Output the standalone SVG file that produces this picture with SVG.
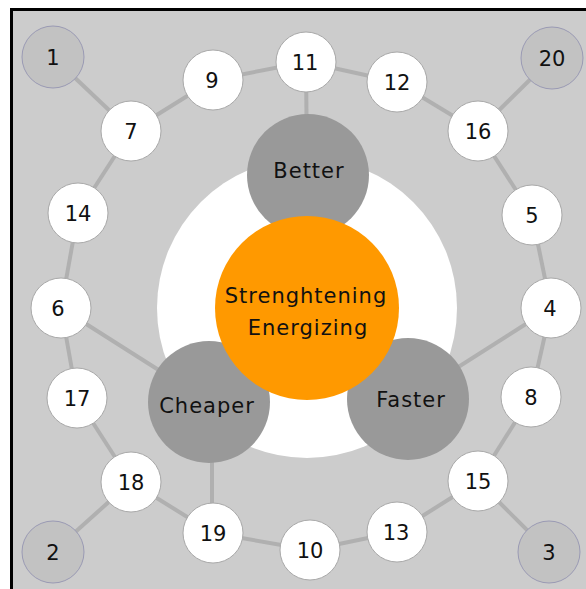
<svg xmlns="http://www.w3.org/2000/svg" width="586" height="589" viewBox="0 0 586 589">
<style>
.bg{fill:#cccccc;stroke:#000;stroke-width:3}
.edge{stroke:#b0b0b0;stroke-width:4;fill:none}
.n circle{fill:#fff;stroke:#a8a8a8;stroke-width:1}
.c circle{fill:#c2c2c2;stroke:#9a9ab4;stroke-width:1}
.g circle{fill:#999999}
.core circle{fill:#ff9900}
text{font-family:"DejaVu Sans",Verdana,sans-serif;font-size:21px;fill:#111;text-anchor:middle}
.w{letter-spacing:1px}
</style>
<rect width="586" height="589" fill="#fff"/>
<rect class="bg" x="11.5" y="9.5" width="620" height="620"/>
<circle cx="307" cy="308" r="150" fill="#fff"/>
<g id="connectors" class="edge">
<line x1="53" y1="57" x2="131" y2="131"/>
<line x1="131" y1="131" x2="213" y2="80"/>
<line x1="213" y1="80" x2="306" y2="62"/>
<line x1="306" y1="62" x2="397" y2="82"/>
<line x1="397" y1="82" x2="478" y2="131"/>
<line x1="478" y1="131" x2="552" y2="58"/>
<line x1="478" y1="131" x2="532" y2="215"/>
<line x1="532" y1="215" x2="551" y2="308"/>
<line x1="551" y1="308" x2="531" y2="397"/>
<line x1="531" y1="397" x2="478" y2="481"/>
<line x1="478" y1="481" x2="549" y2="552"/>
<line x1="478" y1="481" x2="397" y2="532"/>
<line x1="397" y1="532" x2="310" y2="550"/>
<line x1="310" y1="550" x2="213" y2="533"/>
<line x1="213" y1="533" x2="131" y2="482"/>
<line x1="131" y1="482" x2="53" y2="552"/>
<line x1="131" y1="482" x2="77" y2="398"/>
<line x1="77" y1="398" x2="61" y2="308"/>
<line x1="61" y1="308" x2="78" y2="213"/>
<line x1="78" y1="213" x2="131" y2="131"/>
<line x1="306" y1="62" x2="307" y2="175"/>
<line x1="61" y1="308" x2="209" y2="402"/>
<line x1="212" y1="533" x2="212" y2="402"/>
<line x1="551" y1="308" x2="408" y2="399"/>
</g>
<g id="better" class="g"><circle cx="308" cy="175" r="61"/><text class="w" x="309" y="178">Better</text></g>
<g id="cheaper" class="g"><circle cx="209" cy="402" r="61"/><text class="w" x="207" y="413">Cheaper</text></g>
<g id="faster" class="g"><circle cx="408" cy="399" r="61"/><text class="w" x="411" y="407">Faster</text></g>
<g id="core" class="core"><circle cx="307" cy="308" r="92"/><text class="w" x="306" y="303">Strenghtening</text><text class="w" x="308" y="335">Energizing</text></g>
<g id="n1" class="c"><circle cx="53" cy="57" r="31"/><text x="53" y="65">1</text></g>
<g id="n20" class="c"><circle cx="552" cy="58" r="31"/><text x="552" y="66">20</text></g>
<g id="n2" class="c"><circle cx="53" cy="552" r="31"/><text x="53" y="560">2</text></g>
<g id="n3" class="c"><circle cx="549" cy="552" r="31"/><text x="549" y="560">3</text></g>
<g id="n7" class="n"><circle cx="131" cy="131" r="30"/><text x="131" y="139">7</text></g>
<g id="n9" class="n"><circle cx="213" cy="80" r="30"/><text x="212" y="88">9</text></g>
<g id="n11" class="n"><circle cx="306" cy="62" r="30"/><text x="305" y="70">11</text></g>
<g id="n12" class="n"><circle cx="397" cy="82" r="30"/><text x="397" y="90">12</text></g>
<g id="n16" class="n"><circle cx="478" cy="131" r="30"/><text x="478" y="139">16</text></g>
<g id="n14" class="n"><circle cx="78" cy="213" r="30"/><text x="78" y="221">14</text></g>
<g id="n5" class="n"><circle cx="532" cy="215" r="30"/><text x="532" y="223">5</text></g>
<g id="n6" class="n"><circle cx="61" cy="308" r="30"/><text x="58" y="316">6</text></g>
<g id="n4" class="n"><circle cx="551" cy="308" r="30"/><text x="550" y="316">4</text></g>
<g id="n17" class="n"><circle cx="77" cy="398" r="30"/><text x="77" y="406">17</text></g>
<g id="n8" class="n"><circle cx="531" cy="397" r="30"/><text x="531" y="405">8</text></g>
<g id="n18" class="n"><circle cx="131" cy="482" r="30"/><text x="131" y="490">18</text></g>
<g id="n15" class="n"><circle cx="478" cy="481" r="30"/><text x="478" y="489">15</text></g>
<g id="n19" class="n"><circle cx="213" cy="533" r="30"/><text x="213" y="541">19</text></g>
<g id="n13" class="n"><circle cx="397" cy="532" r="30"/><text x="396" y="540">13</text></g>
<g id="n10" class="n"><circle cx="310" cy="550" r="30"/><text x="310" y="558">10</text></g>
</svg>
